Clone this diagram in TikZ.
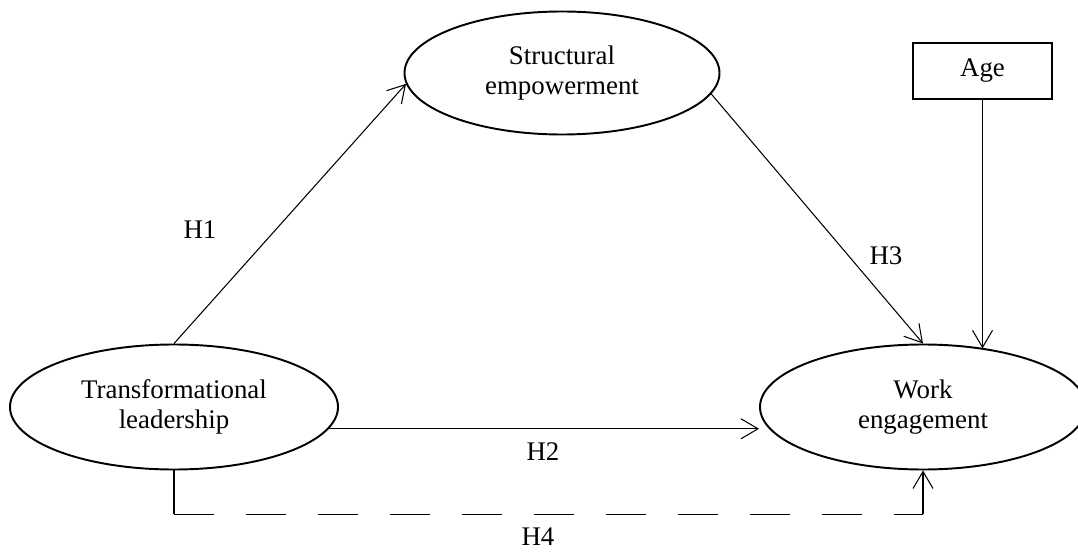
\documentclass[tikz,border=0pt]{standalone}
\usepackage{fontspec}
\setmainfont{Liberation Serif}
\usetikzlibrary{shapes.geometric,arrows.meta,calc}
\tikzset{var/.style={ellipse, draw, line width=1.1pt, inner sep=0pt, align=center,
font=\fontsize{15.3}{17}\selectfont},
ctrl/.style={rectangle, draw, line width=0.8pt, font=\fontsize{15.3}{17}\selectfont},
arr/.style={-{Straight Barb[length=3.4mm,width=4mm]}, line width=0.6pt},
hyp/.style={font=\fontsize{15.3}{17}\selectfont}}

\begin{document}
\begin{tikzpicture}
        \useasboundingbox (0,0) rectangle (21.56,-11.06);
        \node[var, minimum width=6.56cm, minimum height=2.5cm] (tl) at (3.48,-8.14) {Transformational\\leadership};
        \node[var, minimum width=6.3cm, minimum height=2.46cm] (se) at (11.24,-1.46) {Structural\\empowerment};
        \node[var, minimum width=6.52cm, minimum height=2.5cm] (we) at (18.46,-8.14) {Work\\engagement};
        \node[ctrl, minimum width=2.78cm, minimum height=1.12cm] (age) at (19.65,-1.42) {Age};

        \coordinate (h4a) at ($(tl.south)+(0,-0.88)$);
        \coordinate (h4b) at (h4a -| we.south);

        \draw (tl.north) edge[arr] (se.184)
              (se.352) edge[arr] (we.north)
              (age.south) edge[arr] (age.south |- we.43)
              (tl.-8) edge[arr] (we.west |- tl.-8);
        \draw[line width=0.6pt] (tl.south) -- (h4a);
        \draw[line width=0.6pt, dash pattern=on 0.8cm off 0.64cm] (h4a) -- (h4b);
        \draw[arr] (h4b) -- (we.south);

        \node[hyp] (h1) at (4.0,-4.6) {H1};
        \node[hyp] (h2) at (10.86,-9.04) {H2};
        \node[hyp] (h3) at (17.72,-5.12) {H3};
        \node[hyp] (h4) at (10.76,-10.74) {H4};
\end{tikzpicture}
\end{document}
